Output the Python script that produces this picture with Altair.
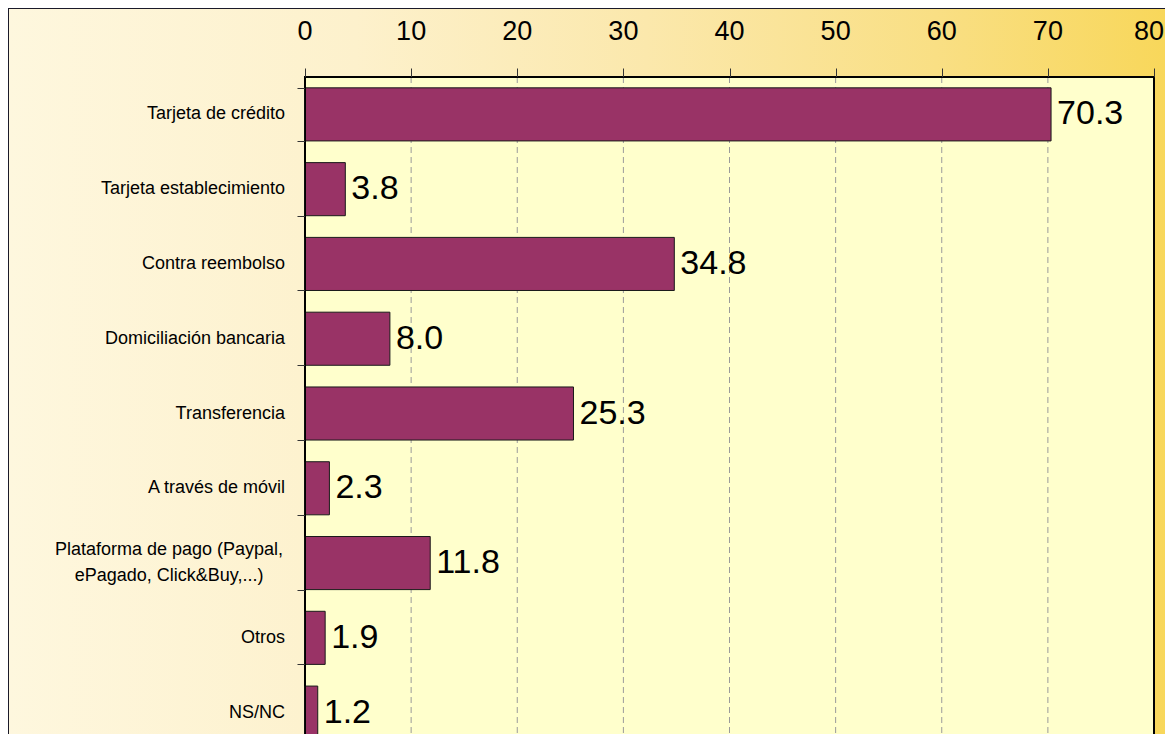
import altair as alt
import pandas as pd

categories = [
    "Tarjeta de crédito",
    "Tarjeta establecimiento",
    "Contra reembolso",
    "Domiciliación bancaria",
    "Transferencia",
    "A través de móvil",
    "Plataforma de pago (Paypal,\nePagado, Click&Buy,...)",
    "Otros",
    "NS/NC",
]
values = [70.3, 3.8, 34.8, 8.0, 25.3, 2.3, 11.8, 1.9, 1.2]
x_ticks = [0, 10, 20, 30, 40, 50, 60, 70, 80]
grid_values = [10, 20, 30, 40, 50, 60, 70]

W = 849          # plot width (0..80)
H_FULL = 673     # full band range (extends below the window)
H = 657          # visible plot height
LEFT = 297
TOP = 69
RIGHT = 11
FONT = "Liberation Sans"

df = pd.DataFrame({"cat": categories, "v": values})
grid_df = pd.DataFrame({"g": grid_values})
tick_df = pd.DataFrame({"t": x_ticks})

xscale = alt.Scale(domain=[0, 80], nice=False, zero=True)
yscale = alt.Scale(paddingInner=0.29, paddingOuter=0.145, range=[0, H_FULL])

panel = alt.Chart(alt.Data(values=[{}])).mark_rect(
    fill=alt.Gradient(
        gradient="linear",
        stops=[
            alt.GradientStop(color="#FEF7DE", offset=0),
            alt.GradientStop(color="#FDF1CC", offset=0.3),
            alt.GradientStop(color="#FBE8AC", offset=0.55),
            alt.GradientStop(color="#F9DF84", offset=0.8),
            alt.GradientStop(color="#F8D75A", offset=1),
        ],
        x1=0, x2=1, y1=0, y2=0,
    ),
    stroke="#1a1a2a", strokeWidth=2,
).encode(
    x=alt.value(-LEFT), x2=alt.value(W + RIGHT + 3),
    y=alt.value(-TOP), y2=alt.value(H_FULL + 5),
)

plot_bg = alt.Chart(alt.Data(values=[{}])).mark_rect(
    fill="#FFFFCC", stroke="#000000", strokeWidth=2
).encode(
    x=alt.value(0), x2=alt.value(W),
    y=alt.value(0), y2=alt.value(H_FULL),
)

grid = alt.Chart(grid_df).mark_rule(
    color="#9a9a9a", strokeDash=[6, 4], strokeWidth=1
).encode(
    x=alt.X("g:Q", scale=xscale, title=None),
    y=alt.value(0), y2=alt.value(H_FULL),
)

bars = alt.Chart(df).mark_bar(
    color="#993366", stroke="#1a1a1a", strokeWidth=1
).encode(
    x=alt.X(
        "v:Q", scale=xscale, title=None,
        axis=alt.Axis(orient="top", values=x_ticks, zindex=1,
                      grid=False, labels=False),
    ),
    y=alt.Y(
        "cat:N", sort=categories, scale=yscale, title=None,
        axis=alt.Axis(tickBand="extent", zindex=1, labels=False),
    ),
)

value_labels = alt.Chart(df).mark_text(
    align="left", baseline="middle", dx=6, fontSize=34, font=FONT, color="#000000"
).encode(
    x=alt.X("v:Q", scale=xscale, title=None),
    y=alt.Y("cat:N", sort=categories, scale=yscale, title=None),
    text=alt.Text("v:Q", format=".1f"),
)

tick_labels_mid = alt.Chart(tick_df).transform_filter(
    "datum.t < 80"
).mark_text(
    align="center", baseline="middle", fontSize=27, font=FONT, color="#000000"
).encode(
    x=alt.X("t:Q", scale=xscale, title=None),
    y=alt.value(-45),
    text=alt.Text("t:Q", format="d"),
)

tick_labels_end = alt.Chart(tick_df).transform_filter(
    "datum.t >= 80"
).mark_text(
    align="right", baseline="middle", fontSize=27, font=FONT, color="#000000", dx=10
).encode(
    x=alt.X("t:Q", scale=xscale, title=None),
    y=alt.value(-45),
    text=alt.Text("t:Q", format="d"),
)

cat_labels_single = alt.Chart(df).transform_filter(
    "indexof(datum.cat, '\\n') < 0"
).mark_text(
    align="right", baseline="middle", fontSize=18, font=FONT, color="#000000"
).encode(
    x=alt.value(-20),
    y=alt.Y("cat:N", sort=categories, scale=yscale, title=None),
    text="cat:N",
)

cat_labels_multi = alt.Chart(df).transform_filter(
    "indexof(datum.cat, '\\n') >= 0"
).mark_text(
    align="center", baseline="middle", fontSize=18, font=FONT, color="#000000",
    lineBreak="\n", lineHeight=26, dy=-13,
).encode(
    x=alt.value(-136),
    y=alt.Y("cat:N", sort=categories, scale=yscale, title=None),
    text="cat:N",
)

chart = alt.layer(
    panel, plot_bg, grid, bars, value_labels,
    tick_labels_mid, tick_labels_end, cat_labels_single, cat_labels_multi,
).properties(
    width=W, height=H,
    autosize=alt.AutoSizeParams(type="none"),
    padding={"left": LEFT, "top": TOP, "right": RIGHT, "bottom": 0},
    background="#FEF7DE",
).configure_view(
    stroke=None
).configure_axisX(
    tickSize=9, tickColor="#333333", domainColor="#000000", zindex=1,
).configure_axisY(
    tickSize=8, tickColor="#333333", domainColor="#000000", zindex=1,
)

chart.save("out.html", embed_options={"renderer": "svg", "actions": False})
